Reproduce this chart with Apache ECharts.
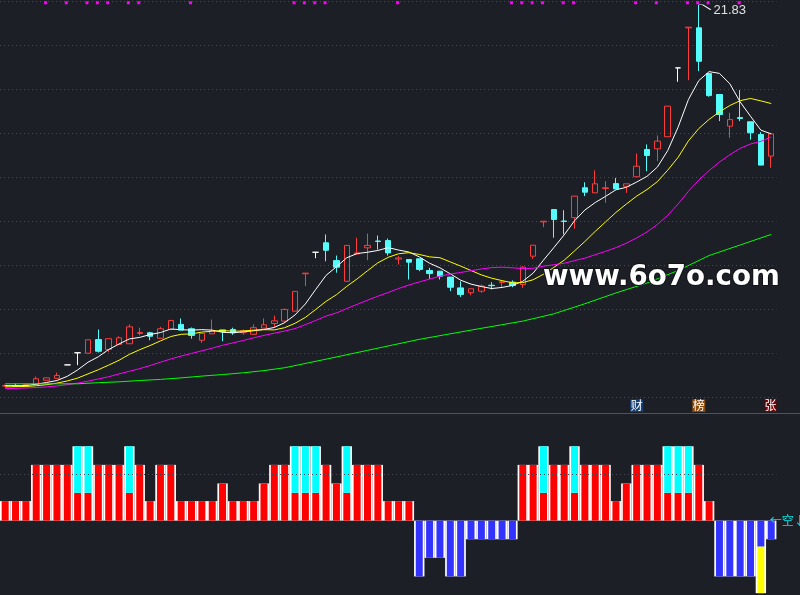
<!DOCTYPE html>
<html>
<head>
<meta charset="utf-8">
<script src="https://cdn.jsdelivr.net/npm/echarts@6/dist/echarts.min.js"></script>
<style>html,body{margin:0;padding:0;background:#1c1f26;}#c{width:800px;height:595px;}</style>
</head>
<body>
<div id="c"></div>
<script>
const categories = ['1','2','3','4','5','6','7','8','9','10','11','12','13','14','15','16','17','18','19','20','21','22','23','24','25','26','27','28','29','30','31','32','33','34','35','36','37','38','39','40','41','42','43','44','45','46','47','48','49','50','51','52','53','54','55','56','57','58','59','60','61','62','63','64','65','66','67','68','69','70','71','72','73','74','75'];

const opens = [4.50,4.51,4.52,4.57,4.76,4.85,5.46,6.01,5.99,6.61,
  6.16,6.39,6.42,6.89,6.92,6.67,7.07,7.30,7.10,6.58,
  6.87,7.05,7.07,6.92,6.85,7.13,7.34,7.45,7.90,9.60,
  10.58,11.01,10.20,9.26,10.50,10.78,11.09,11.11,10.27,10.25,
  10.28,9.75,9.72,9.45,8.96,8.74,8.81,9.08,9.20,9.22,
  9.11,10.40,11.96,12.52,12.00,12.15,13.51,13.28,13.48,13.70,
  13.58,14.01,15.25,15.28,15.83,18.96,20.78,20.78,18.70,17.75,
  16.31,16.70,16.51,15.93,14.95];
const closes = [4.52,4.49,4.57,4.83,4.87,4.98,5.46,6.01,6.60,6.08,
  6.65,6.69,7.19,6.93,6.76,7.10,7.48,7.04,6.80,6.89,
  7.01,6.98,6.92,7.01,7.15,7.28,7.46,7.98,8.80,9.63,
  10.58,10.67,9.90,10.89,10.55,10.89,11.07,10.55,10.32,10.13,
  9.80,9.61,9.49,8.99,8.66,8.92,9.04,9.06,9.24,9.07,
  9.90,10.90,11.99,12.07,11.98,13.13,13.31,13.69,13.51,13.46,
  13.69,14.49,14.98,15.63,17.22,18.96,20.81,19.26,17.70,16.84,
  16.61,16.66,16.01,14.54,15.96];
const lows = [4.45,4.45,4.50,4.57,4.76,4.85,5.46,5.45,5.99,6.02,
  6.04,6.39,6.42,6.80,6.58,6.67,7.07,7.04,6.65,6.46,
  6.87,6.54,6.83,6.83,6.85,7.13,7.15,7.37,7.90,9.04,
  10.31,10.17,9.65,9.26,10.48,10.22,10.70,10.43,10.02,9.34,
  9.72,9.37,9.34,8.81,8.55,8.63,8.74,8.89,8.96,8.99,
  8.96,10.28,11.72,11.24,11.39,11.65,13.13,13.28,12.83,13.46,
  13.28,14.01,14.26,14.72,15.83,18.33,18.40,18.81,17.65,16.54,
  15.78,16.54,15.70,14.54,14.42];
const highs = [4.57,4.60,4.59,4.93,4.87,5.11,5.46,6.01,6.60,7.07,
  6.65,6.76,7.30,7.15,6.96,7.19,7.48,7.57,7.16,6.89,
  7.52,7.05,7.15,7.07,7.30,7.57,7.70,8.02,8.80,9.63,
  10.58,11.39,10.43,10.89,11.24,11.43,11.34,11.20,10.40,10.25,
  10.28,9.87,9.72,9.45,9.26,8.92,9.11,9.22,9.24,9.30,
  9.95,10.90,11.99,12.52,12.49,13.13,13.76,14.30,13.81,13.96,
  13.69,15.07,15.48,15.89,17.22,18.96,20.81,21.83,18.70,17.75,
  16.92,17.95,16.51,16.04,15.96];

const ma5 = [4.52,4.51,4.52,4.58,4.66,4.75,4.94,5.23,5.58,5.83,
  6.16,6.41,6.64,6.71,6.84,6.93,7.09,7.06,7.04,7.06,
  7.04,6.94,6.92,6.96,7.01,7.07,7.16,7.38,7.73,8.23,
  8.89,9.53,9.92,10.33,10.52,10.58,10.66,10.79,10.68,10.59,
  10.37,10.08,9.87,9.60,9.31,9.13,9.02,8.93,8.98,9.07,
  9.26,9.63,10.22,10.79,11.37,12.01,12.50,12.84,13.12,13.42,
  13.53,13.77,14.03,14.45,15.20,16.26,17.52,18.38,18.79,18.71,
  18.24,17.41,16.76,16.13,15.96];
const ma10 = [4.46,4.47,4.48,4.51,4.56,4.63,4.73,4.86,5.05,5.24,
  5.45,5.67,5.94,6.15,6.34,6.55,6.75,6.85,6.87,6.95,
  6.99,7.02,6.99,7.00,7.04,7.06,7.05,7.15,7.35,7.62,
  7.98,8.35,8.65,9.03,9.37,9.74,10.10,10.35,10.51,10.56,
  10.48,10.37,10.33,10.14,9.95,9.75,9.55,9.40,9.29,9.19,
  9.20,9.33,9.58,9.89,10.22,10.64,11.07,11.53,11.96,12.39,
  12.77,13.13,13.43,13.79,14.31,14.89,15.64,16.20,16.62,16.96,
  17.25,17.47,17.57,17.46,17.34];
const ma20 = [4.38,4.39,4.41,4.43,4.46,4.50,4.56,4.63,4.72,4.82,
  4.92,5.05,5.17,5.29,5.43,5.58,5.73,5.86,5.98,6.10,
  6.22,6.35,6.46,6.57,6.69,6.80,6.90,7.00,7.11,7.29,
  7.48,7.68,7.82,8.02,8.21,8.40,8.58,8.75,8.93,9.09,
  9.23,9.36,9.49,9.59,9.66,9.74,9.82,9.88,9.90,9.87,
  9.84,9.85,9.95,10.01,10.08,10.20,10.31,10.47,10.62,10.79,
  10.99,11.23,11.50,11.84,12.26,12.77,13.35,13.86,14.29,14.68,
  15.01,15.30,15.50,15.62,15.82];
const ma60 = [4.60,null,null,null,null,null,null,4.60,null,4.65,
  null,4.69,null,4.75,null,4.80,null,4.87,null,4.95,
  null,5.02,null,5.10,null,5.20,null,5.33,null,null,
  null,5.72,null,null,null,6.12,null,null,null,null,
  6.62,null,null,null,null,7.04,null,null,null,null,
  7.45,null,null,7.78,null,null,8.24,null,null,8.73,
  null,null,9.18,null,null,9.75,null,null,10.43,null,
  null,10.91,null,null,11.39];

const dotDays = [4,6,8,9,10,12,13,18,28,29,30,31,38,49,50,51,52,54,55,61,63,66,67,68,71];
const dotLevel = 21.92;
const peakIndex = 67;
const peakLabel = '21.83';

const tagDays = [61, 67, 74];
const tagTexts = ['财', '榜', '张'];

const levels = [1.05,1.05,1.05,3,3,3,3,4,4,3,
  3,3,4,3,1.05,3,3,1.05,1.05,1.05,
  1.05,2,1.05,1.05,1.05,2,3,3,4,4,
  4,3,2,4,3,3,3,1.05,1.05,1.05,
  -3,-2,-2,-3,-3,-1,-1,-1,-1,-1,
  3,3,4,3,3,4,3,3,3,1.05,
  2,3,3,3,4,4,4,3,1.05,-3,
  -3,-3,-3,-3.9,-1];
const redVals = [1.05,1.05,1.05,3,3,3,3,1.5,1.5,3,
  3,3,1.5,3,1.05,3,3,1.05,1.05,1.05,
  1.05,2,1.05,1.05,1.05,2,3,3,1.5,1.5,
  1.5,3,2,1.5,3,3,3,1.05,1.05,1.05,
  null,null,null,null,null,null,null,null,null,null,
  3,3,1.5,3,3,1.5,3,3,3,1.05,
  2,3,3,3,1.5,1.5,1.5,3,1.05,null,
  null,null,null,null,null];
const cyanVals = [null,null,null,null,null,null,null,2.5,2.5,null,
  null,null,2.5,null,null,null,null,null,null,null,
  null,null,null,null,null,null,null,null,2.5,2.5,
  2.5,null,null,2.5,null,null,null,null,null,null,
  null,null,null,null,null,null,null,null,null,null,
  null,null,2.5,null,null,2.5,null,null,null,null,
  null,null,null,null,2.5,2.5,2.5,null,null,null,
  null,null,null,null,null];
const blueVals = [null,null,null,null,null,null,null,null,null,null,
  null,null,null,null,null,null,null,null,null,null,
  null,null,null,null,null,null,null,null,null,null,
  null,null,null,null,null,null,null,null,null,null,
  -3,-2,-2,-3,-3,-1,-1,-1,-1,-1,
  null,null,null,null,null,null,null,null,null,null,
  null,null,null,null,null,null,null,null,null,-3,
  -3,-3,-3,-1.4,-1];
const yellowVals = [null,null,null,null,null,null,null,null,null,null,
  null,null,null,null,null,null,null,null,null,null,
  null,null,null,null,null,null,null,null,null,null,
  null,null,null,null,null,null,null,null,null,null,
  null,null,null,null,null,null,null,null,null,null,
  null,null,null,null,null,null,null,null,null,null,
  null,null,null,null,null,null,null,null,null,null,
  null,null,null,-2.5,null];
const signalLevel = 2.5;
const lastSignalText = '←空↓';

const candleData = opens.map((o, i) => [o, closes[i], lows[i], highs[i]]);
const tagColors = ['#123f75', '#8a4a0c', '#7d0000'];
const tagData = categories.map(() => null);
tagDays.forEach((d, k) => {
  tagData[d] = {
    value: 1,
    itemStyle: { color: tagColors[k] },
    label: { show: true, position: 'inside', formatter: tagTexts[k], color: '#ffffff',
      fontSize: 12, fontFamily: 'Noto Sans CJK SC' }
  };
});

const GRID_LEFT = -3.6, GRID_W = 780;
const dotted = { color: '#464a54', type: [1, 3], width: 1 };

const chart = echarts.init(document.getElementById('c'), null, { renderer: 'canvas' });
chart.setOption({
  backgroundColor: '#1c1f26',
  animation: false,
  grid: [
    { left: GRID_LEFT, width: GRID_W, top: 1, height: 396 },
    { left: GRID_LEFT, width: GRID_W, top: 446.3, height: 148.8 },
    { left: GRID_LEFT, width: GRID_W, top: 399.3, height: 12.7 }
  ],
  xAxis: [
    { gridIndex: 0, type: 'category', data: categories, show: false },
    { gridIndex: 1, type: 'category', data: categories, show: false },
    { gridIndex: 1, type: 'category', data: categories, show: false },
    { gridIndex: 2, type: 'category', data: categories, show: false }
  ],
  yAxis: [
    { gridIndex: 0, type: 'value', min: 4, max: 22, interval: 2,
      axisLine: { show: false }, axisTick: { show: false }, axisLabel: { show: false },
      splitLine: { show: true, lineStyle: dotted } },
    { gridIndex: 1, type: 'value', min: -4, max: 4, show: false },
    { gridIndex: 2, type: 'value', min: 0, max: 1, show: false }
  ],
  series: [
    {
      type: 'candlestick', xAxisIndex: 0, yAxisIndex: 0, data: candleData, barWidth: 6, z: 2,
      itemStyle: { color: 'rgba(0,0,0,0)', color0: '#54fcfc', borderColor: '#ff3c3c',
        borderColor0: '#54fcfc', borderColorDoji: '#ffffff', borderWidth: 1 },
      markPoint: {
        silent: true,
        data: [{
          coord: [peakIndex, highs[peakIndex]],
          symbol: 'path://M0,0 L4,0 L12,5', symbolSize: [12, 5], symbolOffset: [6, 2.5],
          itemStyle: { color: 'rgba(0,0,0,0)', borderColor: '#ffffff', borderWidth: 1 },
          label: { show: true, position: 'right', distance: 2, offset: [0, 3], formatter: peakLabel,
            color: '#e0e0e0', fontSize: 13, fontFamily: 'Liberation Sans' }
        }]
      }
    },
    { type: 'line', xAxisIndex: 0, yAxisIndex: 0, data: ma5, symbol: 'none', z: 4,
      lineStyle: { color: '#ffffff', width: 1 } },
    { type: 'line', xAxisIndex: 0, yAxisIndex: 0, data: ma10, symbol: 'none', z: 4,
      lineStyle: { color: '#ffff00', width: 1 } },
    { type: 'line', xAxisIndex: 0, yAxisIndex: 0, data: ma20, symbol: 'none', z: 4,
      lineStyle: { color: '#ff00ff', width: 1 } },
    { type: 'line', xAxisIndex: 0, yAxisIndex: 0, data: ma60, symbol: 'none', z: 4, connectNulls: true,
      lineStyle: { color: '#00ff00', width: 1 } },
    { type: 'scatter', xAxisIndex: 0, yAxisIndex: 0, data: dotDays.map(d => [d, dotLevel]),
      symbol: 'rect', symbolSize: 3, symbolOffset: [-1, 0], itemStyle: { color: '#ff00ff', opacity: 1 }, z: 5, silent: true },

    { type: 'line', xAxisIndex: 1, yAxisIndex: 1, data: [null], z: 1, silent: true,
      markLine: { silent: true, symbol: ['none', 'none'], label: { show: false },
        lineStyle: dotted, data: [{ yAxis: signalLevel }] } },
    { type: 'bar', xAxisIndex: 1, yAxisIndex: 1, data: levels, barCategoryGap: '0%', z: 2,
      itemStyle: { color: '#ffffff' } },
    { type: 'bar', xAxisIndex: 2, yAxisIndex: 1, data: redVals, stack: 'ind', barWidth: 7, z: 3,
      itemStyle: { color: '#ff0000' } },
    { type: 'bar', xAxisIndex: 2, yAxisIndex: 1, data: cyanVals, stack: 'ind', barWidth: 7, z: 3,
      itemStyle: { color: '#00ffff' } },
    { type: 'bar', xAxisIndex: 2, yAxisIndex: 1, data: blueVals, stack: 'ind', barWidth: 7, z: 3,
      itemStyle: { color: '#3333ff' },
      markPoint: {
        silent: true,
        data: [{ coord: [74, 0], symbol: 'circle', symbolSize: 1, itemStyle: { color: 'rgba(0,0,0,0)' },
          label: { show: true, position: 'right', distance: 0, offset: [-2, 0], formatter: lastSignalText,
            color: '#00e8e8', fontSize: 12, fontFamily: 'Noto Sans CJK SC' } }]
      } },
    { type: 'bar', xAxisIndex: 2, yAxisIndex: 1, data: yellowVals, stack: 'ind', barWidth: 7, z: 3,
      itemStyle: { color: '#ffff00' } },

    { type: 'bar', xAxisIndex: 3, yAxisIndex: 2, silent: true, z: 5, barWidth: 13, data: tagData }
  ],
  graphic: [
    { type: 'line', silent: true, z: 10, shape: { x1: 0, y1: 413.5, x2: 800, y2: 413.5 },
      style: { stroke: '#50535b', lineWidth: 1 } },
    { type: 'text', silent: true, z: 100, left: 542, top: 263,
      style: { text: 'www.6o7o.com', font: 'bold 27.7px "DejaVu Sans"', fill: '#ffffff',
        stroke: '#111318', lineWidth: 2, strokeFirst: true } }
  ]
});
</script>
</body>
</html>
